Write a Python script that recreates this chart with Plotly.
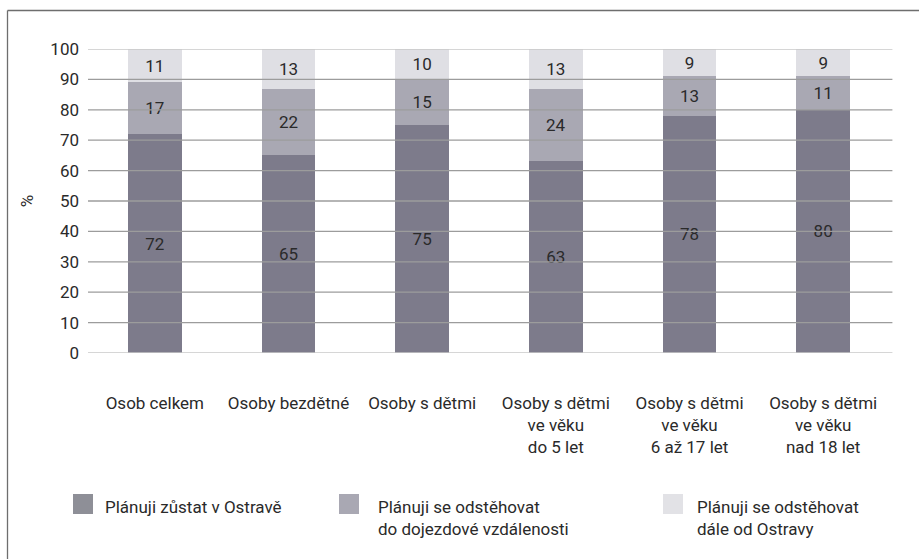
import plotly.graph_objects as go

categories = [
    "Osob celkem",
    "Osoby bezdětné",
    "Osoby s dětmi",
    "Osoby s dětmi<br>ve věku<br>do 5 let",
    "Osoby s dětmi<br>ve věku<br>6 až 17 let",
    "Osoby s dětmi<br>ve věku<br>nad 18 let",
]
stay = [72, 65, 75, 63, 78, 80]
move_near = [17, 22, 15, 24, 13, 11]
move_far = [11, 13, 10, 13, 9, 9]
series_names = [
    "Plánuji zůstat v Ostravě",
    "Plánuji se odstěhovat<br>do dojezdové vzdálenosti",
    "Plánuji se odstěhovat<br>dále od Ostravy",
]
y_ticks = [0, 10, 20, 30, 40, 50, 60, 70, 80, 90, 100]

colors = ["#7d7b8b", "#a9a8b3", "#dfdfe4"]
legend_colors = ["#8e8f97", "#a9a8b3", "#e2e2e6"]
FONT = "Roboto, Liberation Sans, Arial, sans-serif"
TXT = "#2a2a2a"
FS = 17

W, H = 919, 559
ML, MR, MT, MB = 88, 919 - 890, 49, 559 - 353


def px_x(p):
    return (p - ML) / (W - ML - MR)


def px_y(p):
    return (H - MB - p) / (H - MT - MB)


fig = go.Figure()
for vals, name, col in zip([stay, move_near, move_far], series_names, colors):
    fig.add_trace(go.Bar(
        x=categories, y=vals, name=name, marker_color=col, marker_line_width=0,
        text=vals, textposition="inside", insidetextanchor="middle", textangle=0,
        textfont=dict(family=FONT, size=FS, color=TXT),
        showlegend=False, hoverinfo="skip",
    ))

# gridlines above the bars
for i, t in enumerate(y_ticks):
    edge = (i == 0 or i == len(y_ticks) - 1)
    fig.add_shape(type="line", xref="paper", yref="y", x0=0, x1=1.003, y0=t, y1=t,
                  line=dict(color="#c8c8c8" if edge else "#9c9c9c", width=1.6 if edge else 1.3),
                  layer="above")

# outer frame (only top and left visible)
fig.add_shape(type="line", xref="paper", yref="paper", x0=px_x(7.5), x1=px_x(925),
              y0=px_y(10.5), y1=px_y(10.5), line=dict(color="#6e6e6e", width=1.3))
fig.add_shape(type="line", xref="paper", yref="paper", x0=px_x(7.5), x1=px_x(7.5),
              y0=px_y(10.5), y1=px_y(565), line=dict(color="#6e6e6e", width=1.3))

# manual legend
legend_swatch_x = [73, 339, 663]
legend_text_x = [103, 376, 695]
for name, col, sx, tx in zip(series_names, legend_colors, legend_swatch_x, legend_text_x):
    fig.add_shape(type="rect", xref="paper", yref="paper",
                  x0=px_x(sx), x1=px_x(sx + 20), y0=px_y(494), y1=px_y(514),
                  fillcolor=col, line=dict(width=0))
    fig.add_annotation(text=name, xref="paper", yref="paper", x=px_x(tx), y=px_y(495),
                       xanchor="left", yanchor="top", align="left", showarrow=False,
                       font=dict(family=FONT, size=FS, color=TXT))

fig.update_layout(
    barmode="stack",
    bargap=0.6,
    width=W, height=H,
    margin=dict(l=ML, r=MR, t=MT, b=MB),
    paper_bgcolor="white", plot_bgcolor="white",
    font=dict(family=FONT, size=FS, color=TXT),
    showlegend=False,
    xaxis=dict(showgrid=False, showline=False, ticks="", ticklabelstandoff=38,
               tickfont=dict(family=FONT, size=FS, color=TXT), fixedrange=True),
    yaxis=dict(range=[0, 100], tickvals=y_ticks, showgrid=False, zeroline=False, showline=False,
               ticks="", ticklabelstandoff=8,
               tickfont=dict(family=FONT, size=FS, color=TXT),
               title=dict(text="%", standoff=12, font=dict(family=FONT, size=FS, color=TXT))),
)

fig.write_html("out.html")
